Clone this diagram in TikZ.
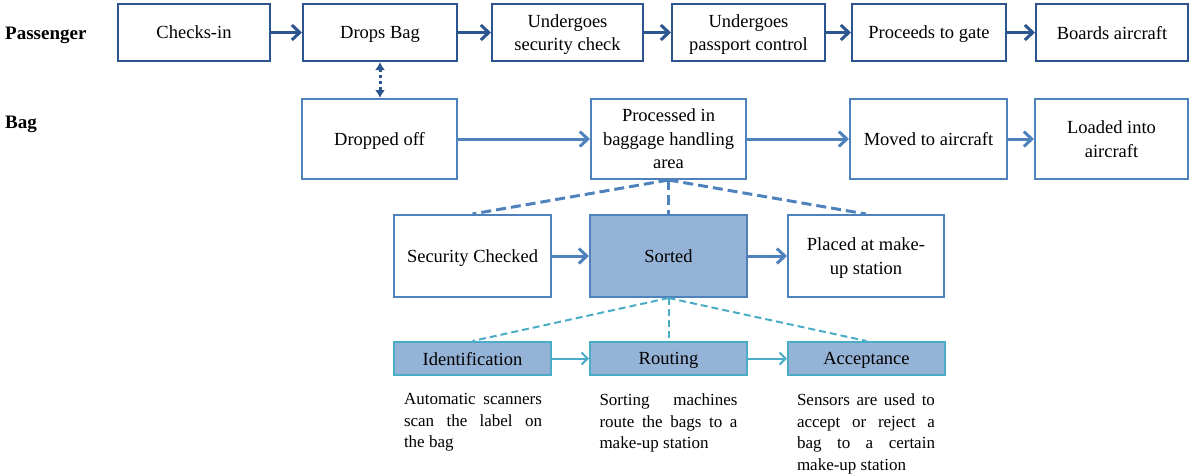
\documentclass[tikz,border=0pt]{standalone}
\usepackage{fontspec}
\setmainfont{Liberation Serif}
\usetikzlibrary{arrows.meta}

\definecolor{paxblue}{RGB}{44,84,142}
\definecolor{bagblue}{RGB}{79,129,189}
\definecolor{sortfill}{RGB}{149,179,215}
\definecolor{stepcyan}{RGB}{75,172,198}

\begin{document}
\begin{tikzpicture}[x=1pt,y=-1pt,
  box/.style={draw, rectangle, inner sep=0pt, align=center, text=black,
    text depth=-2pt, font=\fontsize{18.5}{23.5}\selectfont},
  paxbox/.style={box, draw=paxblue, line width=2pt, minimum height=57pt},
  bagbox/.style={box, draw=bagblue, line width=2pt, minimum height=80pt},
  midbox/.style={box, draw=bagblue, line width=2pt, minimum height=82pt},
  subbox/.style={box, draw=stepcyan, fill=sortfill, line width=2pt, minimum height=33pt},
  rowlabel/.style={anchor=base west, inner sep=0pt, font=\fontsize{19}{23}\selectfont\bfseries},
  desc/.style={anchor=north, text width=138pt, align=justify, inner sep=0pt,
    font=\fontsize{17}{21.5}\selectfont},
  paxflow/.style={draw=paxblue, line width=3pt, -{Straight Barb[length=8pt,width=15pt]}},
  bagflow/.style={draw=bagblue, line width=3pt, -{Straight Barb[length=8pt,width=15pt]}},
  subflow/.style={draw=stepcyan, line width=2pt, -{Straight Barb[length=6pt,width=12pt]}},
  handover/.style={draw=paxblue, line width=3pt, dash pattern=on 3pt off 3pt,
    {Latex[length=8pt,width=10pt]}-{Latex[length=8pt,width=10pt]}},
  stagelink/.style={draw=bagblue, line width=3pt, dash pattern=on 10pt off 5pt},
  sortlink/.style={draw=stepcyan, line width=2pt, dash pattern=on 7pt off 4pt}
]
\useasboundingbox (0,0) rectangle (1192,475);
\hyphenpenalty=10000

% row labels
\node[rowlabel] (lpax) at (5,39) {Passenger};
\node[rowlabel] (lbag) at (5,128) {Bag};

% passenger journey
\node[paxbox, minimum width=152pt] (ci) at (194,32.5) {Checks-in};
\node[paxbox, minimum width=154pt] (db) at (380,32.5) {Drops Bag};
\node[paxbox, minimum width=151pt] (sc) at (567.5,32.5) {Undergoes\\security check};
\node[paxbox, minimum width=153pt] (pc) at (748.5,32.5) {Undergoes\\passport control};
\node[paxbox, minimum width=154pt] (pg) at (929,32.5) {Proceeds to gate};
\node[paxbox, minimum width=152pt] (ba) at (1112,32.5) {Boards aircraft};

% bag journey
\node[bagbox, minimum width=155pt] (do) at (379.5,139) {Dropped off};
\node[bagbox, minimum width=155pt] (pr) at (668.5,139) {Processed in\\baggage handling\\area};
\node[bagbox, minimum width=157pt] (mv) at (928.5,139) {Moved to aircraft};
\node[bagbox, minimum width=153pt] (ld) at (1111.5,139) {Loaded into\\aircraft};

% baggage handling stages
\node[midbox, minimum width=157pt] (scd) at (472.5,256) {Security Checked};
\node[midbox, minimum width=157pt, fill=sortfill] (so) at (668.5,256) {Sorted};
\node[midbox, minimum width=156pt] (pl) at (866,256) {Placed at make-\\up station};

% sorting steps
\node[subbox, minimum width=157pt] (id) at (472.5,358.5) {Identification};
\node[subbox, minimum width=157pt] (ro) at (668.5,358.5) {Routing};
\node[subbox, minimum width=157pt] (ac) at (866.5,358.5) {Acceptance};

% step descriptions
\node[desc] (idtxt) at (473,393.5) {Automatic scanners\linebreak scan the label on\linebreak the bag};
\node[desc] (rotxt) at (668.5,393.5) {Sorting machines\linebreak route the bags to a\linebreak make-up station};
\node[desc] (actxt) at (866,393.5) {Sensors are used to\linebreak accept or reject a\linebreak bag to a certain\linebreak make-up station};

% connectors
\draw[paxflow] (ci) -- (db);
\draw[paxflow] (db) -- (sc);
\draw[paxflow] (sc) -- (pc);
\draw[paxflow] (pc) -- (pg);
\draw[paxflow] (pg) -- (ba);

\draw[handover] (db.south) -- (db.south |- do.north);

\draw[bagflow] (do) -- (pr);
\draw[bagflow] (pr) -- (mv);
\draw[bagflow] (mv) -- (ld);

\draw[stagelink] (pr.south) -- (scd.north);
\draw[stagelink] (pr.south) -- (so.north);
\draw[stagelink] (pr.south) -- (pl.north);

\draw[bagflow] (scd) -- (so);
\draw[bagflow] (so) -- (pl);

\draw[sortlink] (so.south) -- (id.north);
\draw[sortlink] (so.south) -- (ro.north);
\draw[sortlink] (so.south) -- (ac.north);

\draw[subflow] (id) -- (ro);
\draw[subflow] (ro) -- (ac);
\end{tikzpicture}
\end{document}
